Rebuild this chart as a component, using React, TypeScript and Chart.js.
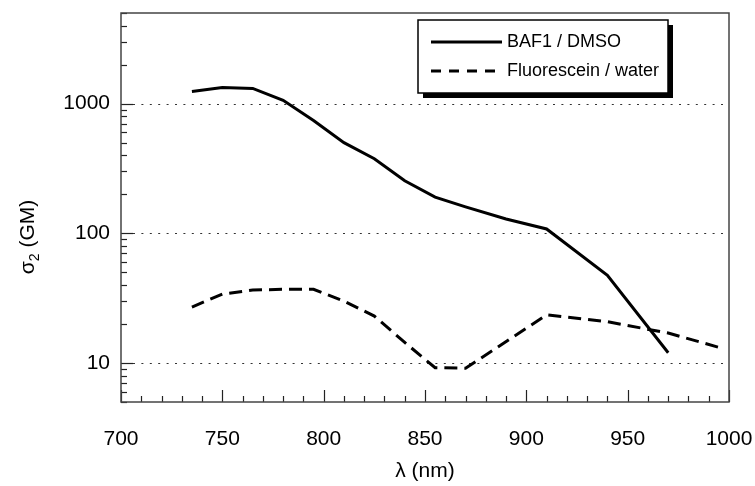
import React, { useEffect, useRef } from "react";
import { Chart, registerables } from "chart.js";

Chart.register(...registerables);

const baf1Wavelengths = [735, 750, 765, 780, 795, 810, 825, 840, 855, 870, 890, 910, 940, 970];
const baf1Sigma = [1240, 1330, 1310, 1060, 740, 500, 376, 254, 190, 160, 129, 108, 47.5, 12];

const fluorWavelengths = [735, 750, 765, 780, 795, 810, 825, 840, 855, 870, 910, 940, 970, 995];
const fluorSigma = [27, 34, 36.5, 37, 37, 30, 23, 14.4, 9.2, 9.1, 23.5, 20.8, 17, 13.2];

const xTickValues = [700, 750, 800, 850, 900, 950, 1000];
const yTickValues = [10, 100, 1000];
const seriesNames = ["BAF1 / DMSO", "Fluorescein / water"];
const xTitle = "λ (nm)";
const yTitleMain = "σ";
const yTitleSub = "2";
const yTitleRest = " (GM)";

const FONT = "'Liberation Sans', Arial, Helvetica, sans-serif";

const decorPlugin = {
  id: "decor",
  beforeDatasetsDraw(chart: any) {
    const { ctx, chartArea, scales } = chart;
    const y = scales.y;
    ctx.save();
    ctx.strokeStyle = "#333";
    ctx.lineWidth = 1;
    ctx.setLineDash([2, 6.4]);
    for (const v of yTickValues) {
      const py = Math.round(y.getPixelForValue(v)) + 0.5;
      ctx.beginPath();
      ctx.moveTo(chartArea.left + 12, py);
      ctx.lineTo(chartArea.right - 4, py);
      ctx.stroke();
    }
    ctx.restore();
  },
  afterDraw(chart: any) {
    const { ctx, chartArea, scales } = chart;
    const { left, right, top, bottom } = chartArea;
    const x = scales.x;
    const y = scales.y;
    ctx.save();
    ctx.strokeStyle = "#222";
    ctx.lineWidth = 1.2;
    ctx.setLineDash([]);
    for (let v = 700; v <= 1000; v += 10) {
      const px = Math.round(x.getPixelForValue(v)) + 0.5;
      const len = v % 50 === 0 ? 12 : 6;
      ctx.beginPath();
      ctx.moveTo(px, bottom);
      ctx.lineTo(px, bottom - len);
      ctx.stroke();
    }
    for (let d = 1; d <= 1000; d *= 10) {
      for (let m = 1; m <= 9; m++) {
        const v = m * d;
        if (v < 5 || v > 5000) continue;
        const py = Math.round(y.getPixelForValue(v)) + 0.5;
        const len = m === 1 ? 12 : 6;
        ctx.beginPath();
        ctx.moveTo(left, py);
        ctx.lineTo(left + len, py);
        ctx.stroke();
      }
    }
    ctx.strokeStyle = "#444";
    ctx.lineWidth = 1.5;
    ctx.strokeRect(left, top, right - left, bottom - top);

    ctx.fillStyle = "#000";
    ctx.font = `21px ${FONT}`;
    ctx.textAlign = "center";
    ctx.textBaseline = "middle";
    ctx.fillText(xTitle, (left + right) / 2, 471);

    ctx.save();
    ctx.translate(28, 237);
    ctx.rotate(-Math.PI / 2);
    ctx.textBaseline = "middle";
    ctx.textAlign = "left";
    ctx.font = `21px ${FONT}`;
    const w1 = ctx.measureText(yTitleMain).width;
    const w3 = ctx.measureText(yTitleRest).width;
    ctx.font = `14px ${FONT}`;
    const w2 = ctx.measureText(yTitleSub).width;
    const total = w1 + w2 + w3;
    let cx = -total / 2;
    ctx.font = `21px ${FONT}`;
    ctx.fillText(yTitleMain, cx, 0);
    cx += w1;
    ctx.font = `14px ${FONT}`;
    ctx.fillText(yTitleSub, cx, 7);
    cx += w2;
    ctx.font = `21px ${FONT}`;
    ctx.fillText(yTitleRest, cx, 0);
    ctx.restore();

    const lx = 418, ly = 20, lw = 250, lh = 73;
    ctx.fillStyle = "#000";
    ctx.fillRect(lx + 5, ly + 5, lw, lh);
    ctx.fillStyle = "#fff";
    ctx.fillRect(lx, ly, lw, lh);
    ctx.strokeStyle = "#000";
    ctx.lineWidth = 1.5;
    ctx.strokeRect(lx, ly, lw, lh);

    const rows = [42, 71];
    const dashes = [[], [10, 8]];
    ctx.font = `18px ${FONT}`;
    ctx.textAlign = "left";
    ctx.textBaseline = "middle";
    for (let i = 0; i < 2; i++) {
      ctx.strokeStyle = "#000";
      ctx.lineWidth = 3;
      ctx.setLineDash(dashes[i]);
      ctx.beginPath();
      ctx.moveTo(431, rows[i]);
      ctx.lineTo(502, rows[i]);
      ctx.stroke();
      ctx.setLineDash([]);
      ctx.fillStyle = "#000";
      ctx.fillText(seriesNames[i], 507, rows[i]);
    }
    ctx.restore();
  },
};

export default function App() {
  const ref = useRef<HTMLCanvasElement | null>(null);
  useEffect(() => {
    if (!ref.current) return;
    const chart = new Chart(ref.current, {
      type: "line",
      data: {
        datasets: [
          {
            label: seriesNames[0],
            data: baf1Wavelengths.map((w, i) => ({ x: w, y: baf1Sigma[i] })),
            borderColor: "#000",
            borderWidth: 3,
            pointRadius: 0,
            tension: 0,
            fill: false,
          },
          {
            label: seriesNames[1],
            data: fluorWavelengths.map((w, i) => ({ x: w, y: fluorSigma[i] })),
            borderColor: "#000",
            borderWidth: 3,
            borderDash: [13, 7],
            pointRadius: 0,
            tension: 0,
            fill: false,
          },
        ],
      },
      options: {
        animation: false,
        responsive: false,
        devicePixelRatio: 1,
        layout: { padding: { top: 13, right: 26, left: 0, bottom: 0 } },
        plugins: { legend: { display: false }, tooltip: { enabled: false } },
        scales: {
          x: {
            type: "linear",
            min: 700,
            max: 1000,
            afterBuildTicks: (s: any) => {
              s.ticks = xTickValues.map((v) => ({ value: v }));
            },
            afterFit: (s: any) => {
              s.height = 84;
              s.paddingLeft = 0;
              s.paddingRight = 0;
            },
            ticks: {
              color: "#000",
              font: { family: FONT, size: 21 },
              padding: 25,
              maxRotation: 0,
              autoSkip: false,
              callback: (v: any) => String(v),
            },
            grid: { display: false, drawTicks: false },
            border: { display: false },
          },
          y: {
            type: "logarithmic",
            min: 5,
            max: 5000,
            afterBuildTicks: (s: any) => {
              s.ticks = yTickValues.map((v) => ({ value: v }));
            },
            afterFit: (s: any) => {
              s.width = 121;
              s.paddingTop = 0;
              s.paddingBottom = 0;
            },
            ticks: {
              color: "#000",
              font: { family: FONT, size: 21 },
              padding: 11,
              autoSkip: false,
              callback: (v: any) => String(v),
            },
            grid: { display: false, drawTicks: false },
            border: { display: false },
          },
        },
      },
      plugins: [decorPlugin],
    });
    return () => chart.destroy();
  }, []);
  return (
    <div style={{ position: "fixed", left: 0, top: 0, width: 755, height: 486, background: "#fff" }}>
      <canvas ref={ref} width={755} height={486} style={{ width: 755, height: 486 }} />
    </div>
  );
}
